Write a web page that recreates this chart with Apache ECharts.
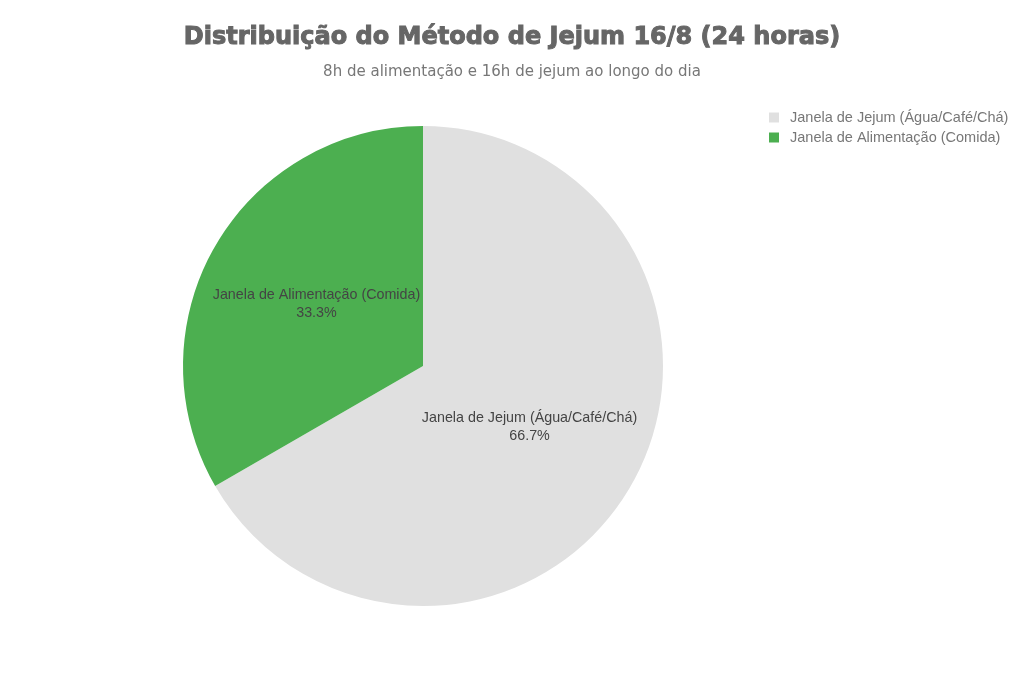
<!DOCTYPE html>
<html><head><meta charset="utf-8">
<script src="https://cdn.jsdelivr.net/npm/echarts@6/dist/echarts.min.js"></script>
<style>html,body{margin:0;padding:0;background:#fff}#c{width:1024px;height:683px}</style>
</head><body><div id="c"></div>
<script>
const categories = ['Janela de Jejum (Água/Café/Chá)', 'Janela de Alimentação (Comida)'];
const hours = [16, 8];
const colors = ['#e0e0e0', '#4caf50'];

const chart = echarts.init(document.getElementById('c'));
chart.setOption({
  animation: false,
  title: {
    text: 'Distribuição do Método de Jejum 16/8 (24 horas)',
    subtext: '8h de alimentação e 16h de jejum ao longo do dia',
    left: 'center',
    top: 21,
    itemGap: 14,
    textStyle: { fontFamily: 'DejaVu Sans', fontSize: 24, fontWeight: 'bold', color: '#666', textBorderColor: '#666', textBorderWidth: 1 },
    subtextStyle: { fontFamily: 'DejaVu Sans', fontSize: 15, color: '#777' }
  },
  legend: {
    orient: 'vertical',
    left: 764,
    top: 105,
    icon: 'rect',
    itemWidth: 10,
    itemHeight: 10,
    itemGap: 5,
    textStyle: { fontFamily: 'Liberation Sans', fontSize: 14.5, color: '#777', padding: [0, 0, 0, 6] },
    data: categories
  },
  color: colors,
  series: [{
    type: 'pie',
    center: [423, 366],
    radius: 240,
    startAngle: 90,
    label: {
      position: 'inside',
      formatter: p => p.name + '\n' + p.percent.toFixed(1) + '%',
      fontFamily: 'Liberation Sans',
      fontSize: 14.3,
      lineHeight: 18,
      color: '#444'
    },
    labelLine: { show: false },
    data: categories.map((n, i) => ({ name: n, value: hours[i] }))
  }]
});
</script></body></html>
